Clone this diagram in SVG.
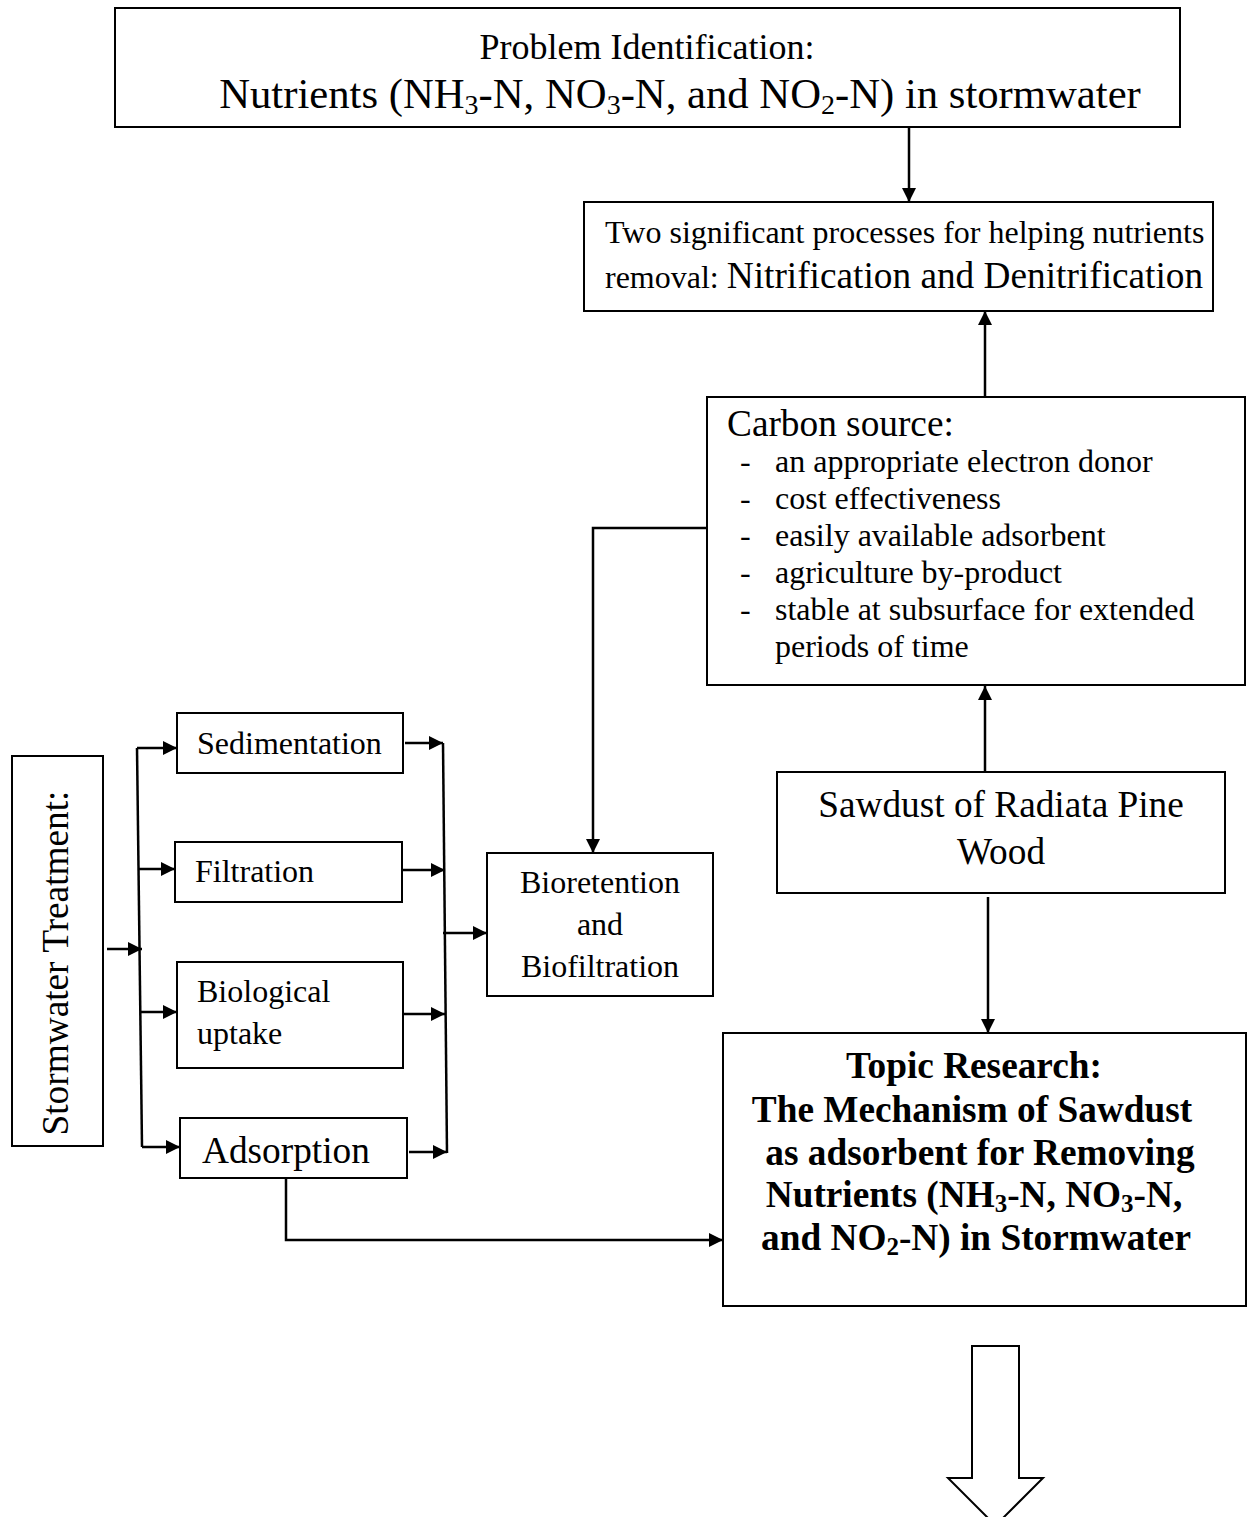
<svg xmlns="http://www.w3.org/2000/svg" width="1247" height="1517" viewBox="0 0 1247 1517">
<defs>
<style>
.box{fill:#fff;stroke:#000;stroke-width:2}
.t{font-family:"Liberation Serif","Times New Roman",serif;fill:#000}
.s12{font-size:32px}
.s14{font-size:37.3px}
.s16{font-size:42.7px}
.b{font-weight:bold}
.c{text-anchor:middle}
.ln{fill:none;stroke:#000;stroke-width:2.5}
.arr{marker-end:url(#ah)}
</style>
<marker id="ah" viewBox="0 0 10 10" refX="10" refY="5" markerWidth="16" markerHeight="14" markerUnits="userSpaceOnUse" orient="auto">
<path d="M0,0 L10,5 L0,10 z" fill="#000"/>
</marker>
</defs>
<rect width="1247" height="1517" fill="#fff"/>

<g id="connectors">
<path class="ln arr" d="M909,127 V202"/>
<path class="ln arr" d="M985,397 V311"/>
<path class="ln arr" d="M985,772 V686"/>
<path class="ln arr" d="M988,897 V1033"/>
<path class="ln arr" d="M707,528 H593 V853"/>
<path class="ln arr" d="M286,1178 V1240 H723"/>
<path class="ln arr" d="M107,949 H142"/>
<path class="ln" d="M137,748 L142,1147"/>
<path class="ln arr" d="M137,748 H177"/>
<path class="ln arr" d="M139,869 H175"/>
<path class="ln arr" d="M140,1012 H177"/>
<path class="ln arr" d="M142,1147 H180"/>
<path class="ln" d="M443,743 L447,1153"/>
<path class="ln arr" d="M405,743 H443"/>
<path class="ln arr" d="M402,870 H445"/>
<path class="ln arr" d="M402,1014 H445"/>
<path class="ln arr" d="M409,1152 H447"/>
<path class="ln arr" d="M443,933 H487"/>
</g>

<g id="problem">
<rect class="box" x="115" y="8" width="1065" height="119"/>
<text class="t c" font-size="36" x="647" y="59">Problem Identification:</text>
<text class="t s16 c" x="680" y="108">Nutrients (NH<tspan font-size="28" dy="6">3</tspan><tspan dy="-6">-N, NO</tspan><tspan font-size="28" dy="6">3</tspan><tspan dy="-6">-N, and NO</tspan><tspan font-size="28" dy="6">2</tspan><tspan dy="-6">-N) in stormwater</tspan></text>
</g>

<g id="processes">
<rect class="box" x="584" y="202" width="629" height="109"/>
<text class="t s12" x="605" y="243">Two significant processes for helping nutrients</text>
<text class="t s12" x="605" y="288">removal: <tspan font-size="37.3">Nitrification and Denitrification</tspan></text>
</g>

<g id="carbon">
<rect class="box" x="707" y="397" width="538" height="288"/>
<text class="t s14" x="727" y="436">Carbon source:</text>
<g class="t s12">
<text x="740" y="472">-</text><text x="775" y="472">an appropriate electron donor</text>
<text x="740" y="509">-</text><text x="775" y="509">cost effectiveness</text>
<text x="740" y="546">-</text><text x="775" y="546">easily available adsorbent</text>
<text x="740" y="583">-</text><text x="775" y="583">agriculture by-product</text>
<text x="740" y="620">-</text><text x="775" y="620">stable at subsurface for extended</text>
<text x="775" y="657">periods of time</text>
</g>
</g>

<g id="sawdust">
<rect class="box" x="777" y="772" width="448" height="121"/>
<text class="t s14 c" x="1001" y="817">Sawdust of Radiata Pine</text>
<text class="t s14 c" x="1001" y="864">Wood</text>
</g>

<g id="topic">
<rect class="box" x="723" y="1033" width="523" height="273"/>
<g class="t s14 b c">
<text x="974" y="1078">Topic Research:</text>
<text x="972" y="1122">The Mechanism of Sawdust</text>
<text x="980" y="1165">as adsorbent for Removing</text>
<text x="974" y="1207">Nutrients (NH<tspan font-size="25" dy="5">3</tspan><tspan dy="-5">-N, NO</tspan><tspan font-size="25" dy="5">3</tspan><tspan dy="-5">-N,</tspan></text>
<text x="976" y="1250">and NO<tspan font-size="25" dy="5">2</tspan><tspan dy="-5">-N) in Stormwater</tspan></text>
</g>
</g>

<g id="stormwater">
<rect class="box" x="12" y="756" width="91" height="390"/>
<text class="t s14 c" transform="translate(68,963) rotate(-90)" x="0" y="0">Stormwater Treatment:</text>
</g>

<g id="sedimentation">
<rect class="box" x="177" y="713" width="226" height="60"/>
<text class="t s12" x="197" y="754">Sedimentation</text>
</g>

<g id="filtration">
<rect class="box" x="175" y="842" width="227" height="60"/>
<text class="t s12" x="195" y="882">Filtration</text>
</g>

<g id="biological">
<rect class="box" x="177" y="962" width="226" height="106"/>
<text class="t s12" x="197" y="1002">Biological</text>
<text class="t s12" x="197" y="1044">uptake</text>
</g>

<g id="adsorption">
<rect class="box" x="180" y="1118" width="227" height="60"/>
<text class="t s14" x="202" y="1163">Adsorption</text>
</g>

<g id="bioretention">
<rect class="box" x="487" y="853" width="226" height="143"/>
<text class="t s12 c" x="600" y="893">Bioretention</text>
<text class="t s12 c" x="600" y="935">and</text>
<text class="t s12 c" x="600" y="977">Biofiltration</text>
</g>

<g id="bigarrow">
<path d="M972,1346 H1019 V1478 H1043 L995.5,1525.5 L948,1478 H972 Z" fill="#fff" stroke="#000" stroke-width="2"/>
</g>
</svg>
